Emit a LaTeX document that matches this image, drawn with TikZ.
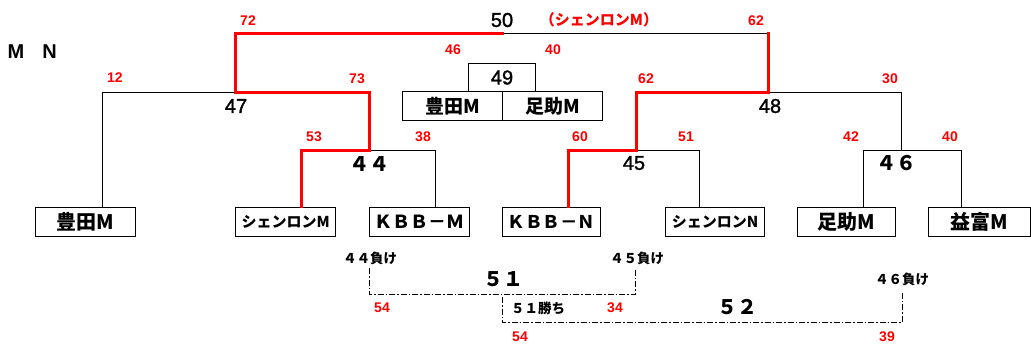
\documentclass[tikz,border=0pt]{standalone}
\usepackage{fontspec}
\setmainfont{Liberation Sans}
\newfontfamily\jp{Noto Sans CJK JP}
\newfontface\numf[FakeBold=1.6]{Liberation Sans}
\begin{document}
\begin{tikzpicture}[x=1pt,y=-1pt,
  blk/.style={line width=1pt,black,line cap=rect},
  redl/.style={line width=3pt,red,line cap=rect,line join=miter},
  dd/.style={line width=0.9pt,black,dash pattern=on 6pt off 2pt on 1.5pt off 2pt},
  box/.style={draw,line width=1pt,inner sep=0pt,minimum height=29.5pt},
  leaftxt/.style={font=\jp\fontsize{20}{20}\selectfont\bfseries},
  rednum/.style={text=red,inner sep=0pt,font=\fontsize{14}{14}\selectfont\bfseries},
  bignum/.style={inner sep=0pt,font=\numf\fontsize{20}{20}\selectfont},
  fwnum/.style={inner sep=0pt,font=\jp\fontsize{20}{20}\selectfont\bfseries},
  smalljp/.style={inner sep=0pt,font=\jp\fontsize{13.5}{13.5}\selectfont\bfseries}]
\useasboundingbox (0,0) rectangle (1031,345);

% leaf boxes
\node[box,leaftxt,minimum width=100pt] (l1) at (85.7,221.8) {豊田M};
\node[box,minimum width=100pt,font=\jp\fontsize{15}{15}\selectfont\bfseries] (l2) at (285.7,221.8) {シェンロンM};
\node[box,minimum width=100pt,font=\jp\fontsize{18}{18}\selectfont\bfseries] (l3) at (419.3,221.8) {ＫＢＢ－Ｍ};
\node[box,minimum width=98pt,font=\jp\fontsize{17.5}{17.5}\selectfont\bfseries] (l4) at (551.7,221.8) {ＫＢＢ－Ｎ};
\node[box,minimum width=98.6pt,font=\jp\fontsize{15}{15}\selectfont\bfseries] (l5) at (715,221.8) {シェンロンN};
\node[box,leaftxt,minimum width=97.6pt] (l6) at (846.5,221.8) {足助M};
\node[box,leaftxt,minimum width=101.3pt] (l7) at (979.4,221.8) {益富M};

% match 49 boxes
\node[box,minimum width=67.7pt,minimum height=28.7pt,font=\numf\fontsize{20}{20}\selectfont] (b49) at (502,77.5) {49};
\node[box,minimum width=99.3pt,minimum height=28.7pt,font=\jp\fontsize{19}{19}\selectfont\bfseries] (b49a) at (452.4,106.3) {豊田M};
\node[box,minimum width=100.7pt,minimum height=28.7pt,font=\jp\fontsize{19}{19}\selectfont\bfseries] (b49b) at (552.4,106.3) {足助M};

% bracket coordinates
\coordinate (t50L) at (235,34);
\coordinate (t50M) at (502,34);
\coordinate (t50R) at (768,34);
\coordinate (j47L) at (102,92);
\coordinate (j47M) at (235,92);
\coordinate (j47R) at (369,92);
\coordinate (j48L) at (636,92);
\coordinate (j48M) at (768,92);
\coordinate (j48R) at (901,92);
\coordinate (j44L) at (301,150);
\coordinate (j44M) at (369,150);
\coordinate (j44R) at (435,150);
\coordinate (j45L) at (568,150);
\coordinate (j45M) at (636,150);
\coordinate (j45R) at (699,150);
\coordinate (j46L) at (863,150);
\coordinate (j46M) at (901,150);
\coordinate (j46R) at (961,150);

% black connectors
\draw[blk] (l1.north -| j47L) -- (j47L) -- (j47M);
\draw[blk] (t50M) -- (t50R);
\draw[blk] (j48M) -- (j48R) -- (j46M);
\draw[blk] (j44M) -- (j44R) -- (l3.north -| j44R);
\draw[blk] (j45M) -- (j45R) -- (l5.north -| j45R);
\draw[blk] (l6.north -| j46L) -- (j46L) -- (j46R) -- (l7.north -| j46R);
% red connectors
\draw[redl] (t50M) -- (t50L) -- (j47M) -- (j47R) -- (j44M);
\draw[redl] (t50R) -- (j48M) -- (j48L) -- (j45M);
\draw[redl] (j44M) -- (j44L) -- (l2.north -| j44L);
\draw[redl] (j45M) -- (j45L) -- (l4.north -| j45L);

% match numbers
\node[bignum] (n50) at (502,20) {50};
\node[text=red,inner sep=0pt,font=\jp\fontsize{15}{15}\selectfont\bfseries] (win) at (599,20) {（シェンロンM）};
\node[bignum] (n47) at (236,106) {47};
\node[bignum] (n48) at (770,106) {48};
\node[fwnum] (n44) at (369,164) {４４};
\node[bignum] (n45) at (634,163) {45};
\node[fwnum] (n46) at (896,163) {４６};

% scores
\node[rednum] at (248,21) {72};
\node[rednum] at (756,21) {62};
\node[rednum] at (115,78) {12};
\node[rednum] at (357,79) {73};
\node[rednum] at (453,50) {46};
\node[rednum] at (553,50) {40};
\node[rednum] at (646,79) {62};
\node[rednum] at (890,79) {30};
\node[rednum] at (314,137) {53};
\node[rednum] at (423,137) {38};
\node[rednum] at (580,137) {60};
\node[rednum] at (686,137) {51};
\node[rednum] at (851,137) {42};
\node[rednum] at (950,137) {40};

% M N
\node[inner sep=0pt,font=\fontsize{20}{20}\selectfont\bfseries] (mm) at (16,52) {M};
\node[inner sep=0pt,font=\fontsize{20}{20}\selectfont\bfseries] (nn) at (49.5,52) {N};

% consolation bracket
\node[smalljp] (lose44) at (370,258) {４４負け};
\node[smalljp] (lose45) at (637,258) {４５負け};
\node[smalljp] (lose46) at (902,279) {４６負け};
\node[fwnum] (n51) at (503,279) {５１};
\node[smalljp] (win51) at (538,308) {５１勝ち};
\node[fwnum] (n52) at (737,307) {５２};
\node[rednum] at (382,308) {54};
\node[rednum] at (615,308) {34};
\node[rednum] at (520,337) {54};
\node[rednum] at (887,337) {39};

\coordinate (d51L) at (369,268);
\coordinate (d51R) at (635,268);
\coordinate (d52L) at (502,297);
\coordinate (d52R) at (902,293);
\draw[dd] (d51L) |- (502,294) -| (d51R);
\draw[dd] (d52L) |- (702,322) -| (d52R);
\end{tikzpicture}
\end{document}
